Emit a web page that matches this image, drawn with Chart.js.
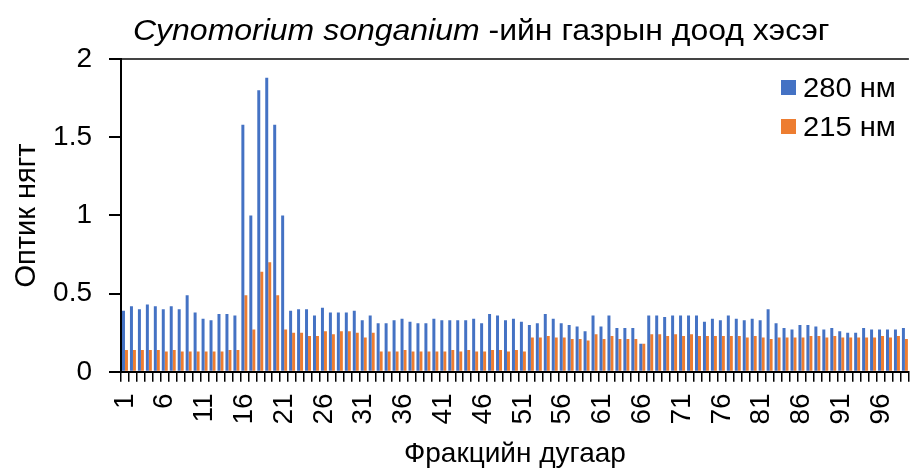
<!DOCTYPE html>
<html>
<head>
<meta charset="utf-8">
<script src="https://cdn.jsdelivr.net/npm/chart.js@4"></script>
<style>
  body { margin: 0; width: 913px; height: 468px; overflow: hidden; background: #fff; position: relative; font-family: "Liberation Sans", Arial, sans-serif; }
  #wrap { position: absolute; left: 0; top: 0; width: 950px; height: 468px; }
  #title { position: absolute; top: 12px; left: 133px; font-size: 30px; line-height: 36px; color: #000; white-space: nowrap; transform: scaleX(1.066); transform-origin: left center; }
  .lg-box { position: absolute; left: 781px; width: 15px; height: 15px; }
  .lg-text { position: absolute; left: 803px; font-size: 27px; line-height: 30px; color: #000; white-space: nowrap; transform: scaleX(1.08); transform-origin: left center; }
</style>
</head>
<body>
<div id="wrap"><canvas id="chart"></canvas></div>
<div id="title"><i>Cynomorium songanium</i> -ийн газрын доод хэсэг</div>
<div class="lg-box" style="top:80px;background:#4472C4"></div>
<div class="lg-text" style="top:73px">280 нм</div>
<div class="lg-box" style="top:119px;background:#ED7D31"></div>
<div class="lg-text" style="top:112px">215 нм</div>
<script>
// Fraction numbers 1..99
const fractions = [];
for (let i = 1; i <= 99; i++) fractions.push(String(i));

// Optical density at 280 nm
const od280 = [
    0.39, 0.42, 0.40, 0.43, 0.42, 0.40, 0.42, 0.40, 0.49, 0.38,
    0.34, 0.33, 0.37, 0.37, 0.36, 1.58, 1.00, 1.80, 1.88, 1.58,
    1.00, 0.39, 0.40, 0.40, 0.36, 0.41, 0.38, 0.38, 0.38, 0.39,
    0.33, 0.36, 0.31, 0.31, 0.33, 0.34, 0.32, 0.31, 0.31, 0.34,
    0.33, 0.33, 0.33, 0.33, 0.34, 0.31, 0.37, 0.36, 0.33, 0.34,
    0.32, 0.30, 0.31, 0.37, 0.34, 0.31, 0.30, 0.29, 0.26, 0.36,
    0.29, 0.36, 0.28, 0.28, 0.28, 0.18, 0.36, 0.36, 0.35, 0.36,
    0.36, 0.36, 0.36, 0.32, 0.34, 0.33, 0.36, 0.34, 0.33, 0.34,
    0.33, 0.40, 0.31, 0.28, 0.27, 0.30, 0.30, 0.29, 0.27, 0.28,
    0.26, 0.25, 0.25, 0.28, 0.27, 0.27, 0.27, 0.27, 0.28
];

// Optical density at 215 nm
const od215 = [
    0.14, 0.14, 0.14, 0.14, 0.14, 0.13, 0.14, 0.13, 0.13, 0.13,
    0.13, 0.13, 0.13, 0.14, 0.14, 0.49, 0.27, 0.64, 0.70, 0.49,
    0.27, 0.25, 0.25, 0.23, 0.23, 0.26, 0.24, 0.26, 0.26, 0.25,
    0.22, 0.25, 0.13, 0.13, 0.13, 0.14, 0.13, 0.13, 0.13, 0.13,
    0.13, 0.14, 0.13, 0.14, 0.13, 0.13, 0.14, 0.14, 0.13, 0.14,
    0.13, 0.22, 0.22, 0.23, 0.22, 0.22, 0.21, 0.21, 0.20, 0.24,
    0.21, 0.23, 0.21, 0.21, 0.21, 0.18, 0.24, 0.24, 0.23, 0.24,
    0.23, 0.24, 0.23, 0.23, 0.23, 0.23, 0.23, 0.23, 0.22, 0.23,
    0.22, 0.21, 0.22, 0.22, 0.22, 0.22, 0.23, 0.23, 0.22, 0.23,
    0.22, 0.22, 0.22, 0.22, 0.22, 0.23, 0.22, 0.23, 0.21
];

const yTicks = [0, 0.5, 1, 1.5, 2];

Chart.defaults.font.family = '"Liberation Sans", Arial, sans-serif';
Chart.defaults.color = '#000';

new Chart(document.getElementById('chart'), {
    type: 'bar',
    data: {
        labels: fractions,
        datasets: [
            { label: '280 нм', data: od280, backgroundColor: '#4472C4', barPercentage: 1, categoryPercentage: 0.75 },
            { label: '215 нм', data: od215, backgroundColor: '#ED7D31', barPercentage: 1, categoryPercentage: 0.75 }
        ]
    },
    options: {
        responsive: true,
        maintainAspectRatio: false,
        animation: false,
        layout: { padding: { top: 59, left: 0, right: 0, bottom: 0 } },
        plugins: {
            legend: { display: false },
            tooltip: { enabled: false }
        },
        scales: {
            x: {
                grid: { display: true, drawOnChartArea: false, offset: true, tickLength: 10, color: '#000', lineWidth: 1.5 },
                border: { display: true, color: '#000', width: 2 },
                ticks: {
                    autoSkip: false,
                    minRotation: 90,
                    maxRotation: 90,
                    padding: 11.5,
                    font: { size: 28 },
                    callback: (v, i) => (i % 5 === 0 ? fractions[i] : '')
                },
                title: { display: true, text: 'Фракцийн дугаар', font: { size: 28, lineHeight: 1.0 }, padding: { top: 4, bottom: 0 } }
            },
            y: {
                min: 0,
                max: 2,
                afterBuildTicks: axis => { axis.ticks = yTicks.map(v => ({ value: v })); },
                afterFit: axis => { axis.width = 121; },
                grid: {
                    drawOnChartArea: true,
                    tickLength: 12,
                    color: ctx => (ctx.tick && ctx.tick.value === 2 ? '#444' : 'rgba(0,0,0,0)'),
                    tickColor: '#000',
                    lineWidth: 2
                },
                border: { display: true, color: '#000', width: 2 },
                ticks: { font: { size: 28 }, padding: 17, callback: v => String(v) },
                title: { display: true, text: 'Оптик нягт', font: { size: 29 }, padding: { top: 10, bottom: 0 } }
            }
        }
    }
});
</script>
</body>
</html>
